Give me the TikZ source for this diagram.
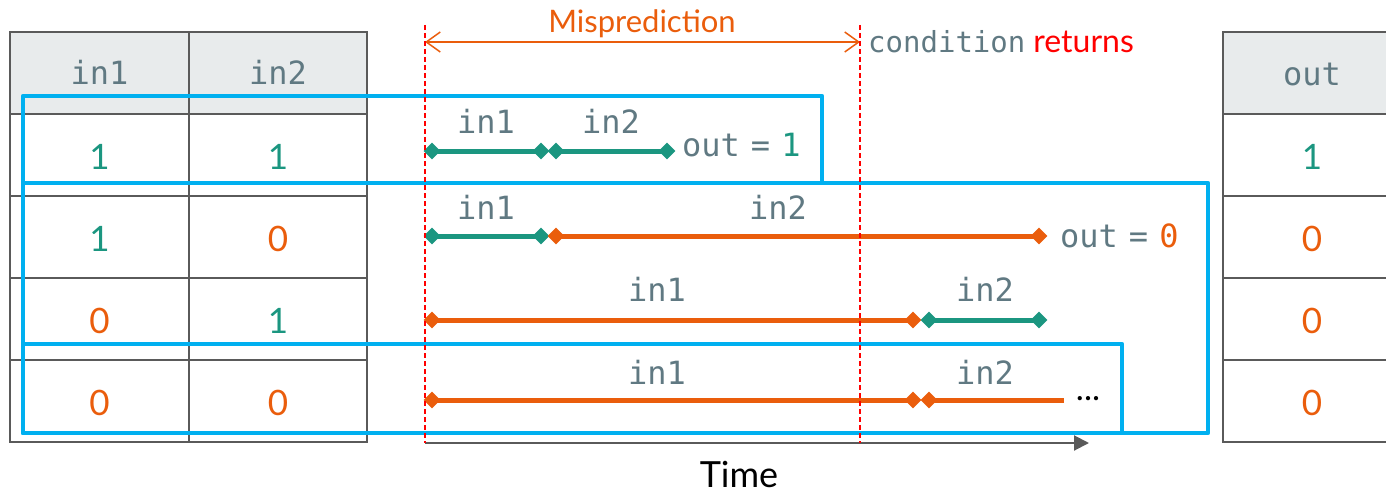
\documentclass[tikz,border=0pt]{standalone}
\usepackage{fontspec}
\setmainfont{Lato}
\setmonofont{DejaVu Sans Mono}
\usetikzlibrary{arrows.meta,shapes.geometric}

\definecolor{tgreen}{RGB}{27,150,128}
\definecolor{torange}{RGB}{234,93,12}
\definecolor{slate}{RGB}{96,121,130}
\definecolor{gridgray}{RGB}{90,90,90}
\definecolor{headfill}{RGB}{232,235,236}
\definecolor{cyanbox}{RGB}{0,176,240}
\definecolor{mred}{RGB}{255,0,0}

\newcommand\fsz[1]{\fontsize{#1}{#1}\selectfont}
\newcommand\eqgap{\hspace{11pt}}

\tikzset{
  cell/.style={draw=gridgray, line width=2.5pt, inner sep=0pt,
    minimum height=82pt, text depth=0pt},
  headcell/.style={cell, fill=headfill},
  colA/.style={minimum width=179pt},
  colB/.style={minimum width=178pt},
  colC/.style={minimum width=177pt},
  monolbl/.style={font=\ttfamily\fsz{32}, text=slate, inner sep=0pt, anchor=base},
  digit/.style={font=\fsz{35}, inner sep=0pt, anchor=base},
  seg/.style={line width=5pt},
  dmd/.style={diamond, inner sep=0pt, minimum width=17pt, minimum height=17pt, fill},
  selbox/.style={draw=cyanbox, line width=4.5pt, line join=round},
  guide/.style={draw=mred, line width=1.3pt, dash pattern=on 5pt off 3pt},
}

\begin{document}
\begin{tikzpicture}[x=1pt,y=-1pt]
\useasboundingbox (0,0) rectangle (1386,492);
\clip (0,0) rectangle (1386,492);

% ---- input table ----
\node[headcell,colA] (h1) at (99.5,73) {};
\node[headcell,colB] (h2) at (278,73) {};
\foreach \r/\y in {1/155,2/237,3/319,4/401}{
  \node[cell,colA] (a\r) at (99.5,\y) {};
  \node[cell,colB] (b\r) at (278,\y) {};
}
\node[monolbl] (h1t) at (99.5,85) {in1};
\node[monolbl] (h2t) at (278,85) {in2};
\node[digit,text=tgreen]  (a1t) at (99.5,169) {1};
\node[digit,text=tgreen]  (b1t) at (278,169)  {1};
\node[digit,text=tgreen]  (a2t) at (99.5,251) {1};
\node[digit,text=torange] (b2t) at (278,251)  {0};
\node[digit,text=torange] (a3t) at (99.5,333) {0};
\node[digit,text=tgreen]  (b3t) at (278,333)  {1};
\node[digit,text=torange] (a4t) at (99.5,415) {0};
\node[digit,text=torange] (b4t) at (278,415)  {0};

% ---- output table ----
\node[headcell,colC] (h3) at (1311.5,73) {};
\foreach \r/\y in {1/155,2/237,3/319,4/401}{
  \node[cell,colC] (c\r) at (1311.5,\y) {};
}
\node[monolbl] (h3t) at (1312,86) {out};
\node[digit,text=tgreen]  (c1t) at (1312,169) {1};
\node[digit,text=torange] (c2t) at (1312,251) {0};
\node[digit,text=torange] (c3t) at (1312,333) {0};
\node[digit,text=torange] (c4t) at (1312,415) {0};

% ---- time axis ----
\coordinate (ax0) at (425,443);
\coordinate (ax1) at (1089,443);
\draw[gridgray, line width=2pt, -{Triangle[length=15pt,width=15pt]}] (ax0) -- (ax1);
\node[font=\fsz{36}, inner sep=0pt, anchor=base] (time) at (739,487) {Time};

% ---- execution segments ----
\coordinate (p1a) at (432,151); \coordinate (p1b) at (541,151);
\coordinate (p1c) at (556,151); \coordinate (p1d) at (667,151);
\coordinate (p2a) at (432,236); \coordinate (p2b) at (541,236);
\coordinate (p2c) at (556,236); \coordinate (p2d) at (1039,236);
\coordinate (p3a) at (432,320); \coordinate (p3b) at (913,320);
\coordinate (p3c) at (929,320); \coordinate (p3d) at (1039,320);
\coordinate (p4a) at (432,400); \coordinate (p4b) at (913,400);
\coordinate (p4c) at (929,400); \coordinate (p4d) at (1064,400);

\draw[seg,tgreen]  (p1a) -- (p1b);
\draw[seg,tgreen]  (p1c) -- (p1d);
\draw[seg,tgreen]  (p2a) -- (p2b);
\draw[seg,torange] (p2c) -- (p2d);
\draw[seg,torange] (p3a) -- (p3b);
\draw[seg,tgreen]  (p3c) -- (p3d);
\draw[seg,torange] (p4a) -- (p4b);
\draw[seg,torange] (p4c) -- (p4d);

\node[dmd,tgreen]  (d1a) at (p1a) {};
\node[dmd,tgreen]  (d1b) at (p1b) {};
\node[dmd,tgreen]  (d1c) at (p1c) {};
\node[dmd,tgreen]  (d1d) at (p1d) {};
\node[dmd,tgreen]  (d2a) at (p2a) {};
\node[dmd,tgreen]  (d2b) at (p2b) {};
\node[dmd,torange] (d2c) at (p2c) {};
\node[dmd,torange] (d2d) at (p2d) {};
\node[dmd,torange] (d3a) at (p3a) {};
\node[dmd,torange] (d3b) at (p3b) {};
\node[dmd,tgreen]  (d3c) at (p3c) {};
\node[dmd,tgreen]  (d3d) at (p3d) {};
\node[dmd,torange] (d4a) at (p4a) {};
\node[dmd,torange] (d4b) at (p4b) {};
\node[dmd,torange] (d4c) at (p4c) {};

% segment labels
\node[monolbl] (l1a) at (486,133) {in1};
\node[monolbl] (l1b) at (611,133) {in2};
\node[monolbl] (l2a) at (486,219) {in1};
\node[monolbl] (l2b) at (778,219) {in2};
\node[monolbl] (l3a) at (657,301) {in1};
\node[monolbl] (l3b) at (985,301) {in2};
\node[monolbl] (l4a) at (657,384) {in1};
\node[monolbl] (l4b) at (985,384) {in2};

\node[monolbl, anchor=base west] (o1) at (682,157) {out\eqgap=\eqgap\textcolor{tgreen}{1}};
\node[monolbl, anchor=base west] (o2) at (1060,247) {out\eqgap=\eqgap\textcolor{torange}{0}};
\node[font=\fsz{34}, inner sep=0pt, anchor=base] (dots) at (1088,400) {...};

% ---- selection boxes ----
\draw[selbox] (23,96) rectangle (822,183);
\draw[selbox] (23,183) rectangle (1208,433);
\draw[selbox] (23,344) rectangle (1122,433);

% ---- misprediction window ----
\coordinate (g1t) at (425,25); \coordinate (g1b) at (425,443);
\coordinate (g2t) at (860,25); \coordinate (g2b) at (860,443);
\coordinate (mL) at (425,42);  \coordinate (mR) at (860,42);
\draw[torange, line width=1.5pt,
  {Straight Barb[length=14pt,width=20pt]}-{Straight Barb[length=14pt,width=20pt]}] (mL) -- (mR);
\node[font=\fsz{31}, text=torange, inner sep=0pt, anchor=base] (mis) at (642,33) {Misprediction};
\node[inner sep=0pt, anchor=base west] (cond) at (868,53)
  {{\ttfamily\fsz{29}\color{slate}condition}\hspace{8pt}{\fsz{32}\color{mred}returns}};
\draw[guide] (g1t) -- (g1b);
\draw[guide] (g2t) -- (g2b);
\end{tikzpicture}
\end{document}
